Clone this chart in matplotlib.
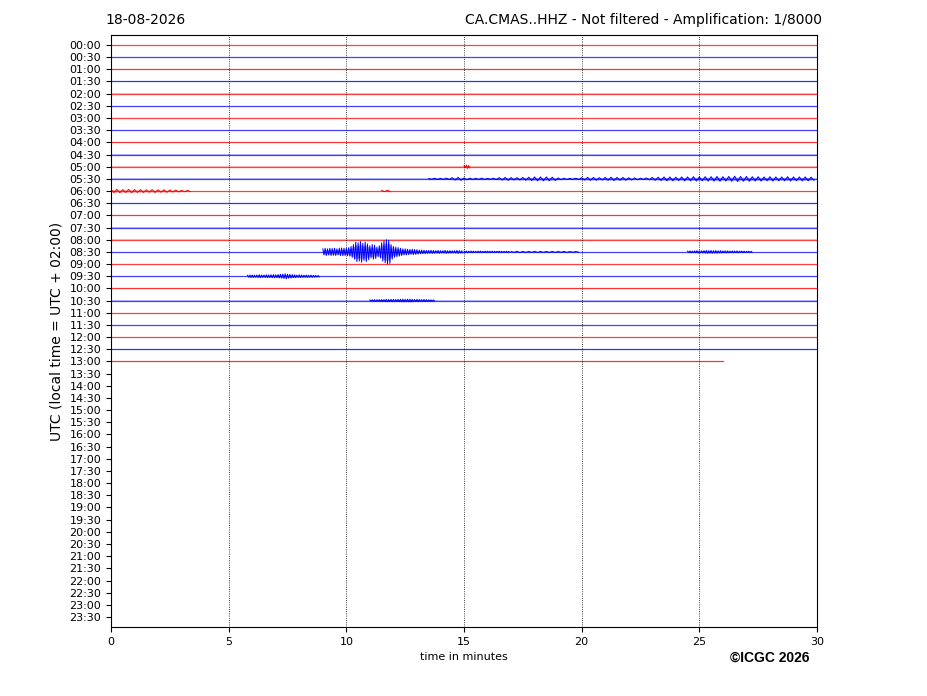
import numpy as np
import matplotlib as mpl
mpl.use('Agg')
import matplotlib.pyplot as plt

mpl.rcParams['font.size'] = 8

# helicorder rows, one every 30 min, 00:00 .. 23:30
row_labels = ['%02d:%02d' % (h, m) for h in range(24) for m in (0, 30)]
n_data_rows = 27              # 00:00 .. 13:00 have data
last_row_end = 26.0           # minutes recorded in the 13:00 row
row_noise = [0.02, 0.02, 0.03, 0.05, 0.02, 0.02, 0.02, 0.02, 0.05,
             0.05, 0.02, 0.03, 0.03, 0.03, 0.02, 0.02, 0.02, 0.02,
             0.02, 0.02, 0.05, 0.03, 0.02, 0.02, 0.02, 0.02, 0.05]

# signal envelopes: (row, start minute, step, amplitudes in row units)
events = [
    (10, 15.0, 0.1, [0.08, 0.14, 0.1]),
    (11, 13.5, 0.25, [0.04, 0.05, 0.05, 0.06, 0.1, 0.12, 0.08, 0.06,
                      0.05, 0.06, 0.05, 0.06, 0.1, 0.12, 0.1, 0.1,
                      0.12, 0.14, 0.16, 0.16, 0.16, 0.14, 0.08, 0.06,
                      0.05, 0.06, 0.1, 0.12, 0.12, 0.1, 0.12, 0.14,
                      0.12, 0.12, 0.1, 0.08, 0.06, 0.08, 0.12, 0.14,
                      0.16, 0.16, 0.14, 0.16, 0.16, 0.18, 0.16, 0.18,
                      0.18, 0.2, 0.18, 0.2, 0.22, 0.2, 0.2, 0.18,
                      0.18, 0.16, 0.18, 0.16, 0.16, 0.18, 0.16, 0.16,
                      0.16, 0.14]),
    (12, 0.0, 0.25, [0.12, 0.14, 0.12, 0.14, 0.12, 0.12, 0.1, 0.12,
                     0.1, 0.1, 0.08, 0.08, 0.06, 0.05]),
    (12, 11.5, 0.25, [0.05, 0.06]),
    (17, 9.0, 0.1, [0.25, 0.3, 0.25, 0.3, 0.28, 0.3, 0.25, 0.3, 0.32, 0.3,
                    0.3, 0.35, 0.45, 0.6, 0.8, 0.75, 0.85, 0.7, 0.8, 0.65,
                    0.5, 0.6, 0.55, 0.4, 0.5, 0.75, 0.9, 1.0, 0.95, 0.6,
                    0.45, 0.4, 0.35, 0.3, 0.25, 0.25, 0.22, 0.2, 0.22, 0.2,
                    0.18, 0.15, 0.15, 0.14, 0.12, 0.12, 0.13, 0.12, 0.1, 0.12,
                    0.1, 0.1, 0.12, 0.1, 0.1, 0.09, 0.1, 0.12, 0.1, 0.09]),
    (17, 15.0, 0.1, [0.08, 0.07, 0.06, 0.07, 0.06, 0.05, 0.06, 0.07, 0.05, 0.06,
                     0.06, 0.05, 0.06, 0.05, 0.05, 0.06, 0.05, 0.04, 0.05, 0.04]),
    (17, 17.0, 0.25, [0.04, 0.05, 0.04, 0.04, 0.05, 0.04, 0.04, 0.04, 0.03, 0.04, 0.03, 0.03]),
    (17, 24.5, 0.1, [0.06, 0.08, 0.07, 0.08, 0.1, 0.08, 0.09, 0.1, 0.12, 0.1,
                     0.12, 0.1, 0.11, 0.09, 0.1, 0.08, 0.09, 0.08, 0.07, 0.08,
                     0.07, 0.08, 0.06, 0.07, 0.06, 0.05, 0.06, 0.05]),
    (19, 5.8, 0.1, [0.08, 0.1, 0.1, 0.09, 0.1, 0.12, 0.1, 0.1, 0.12, 0.11,
                    0.12, 0.13, 0.12, 0.14, 0.16, 0.18, 0.2, 0.17, 0.15, 0.13,
                    0.12, 0.1, 0.11, 0.1, 0.09, 0.1, 0.08, 0.09, 0.08, 0.07, 0.06]),
    (21, 11.0, 0.1, [0.06, 0.07, 0.08, 0.07, 0.08, 0.09, 0.08, 0.1, 0.09, 0.1,
                     0.1, 0.09, 0.1, 0.11, 0.12, 0.1, 0.11, 0.12, 0.1, 0.09,
                     0.1, 0.09, 0.08, 0.09, 0.08, 0.07, 0.06, 0.06]),
]

row_colors = ['red', 'blue']
grid_minutes = [5, 10, 15, 20, 25]


def zigzag(start, step, amps, base):
    x = start + np.arange(len(amps)) * step
    a = np.array(amps)
    xs = np.column_stack([x, x + step / 2]).ravel()
    ys = np.column_stack([base - a, base + a]).ravel()
    return xs, ys


fig = plt.figure(figsize=(9.27, 6.96), dpi=100)
ax = fig.add_axes([111 / 927, 1 - 627 / 696, 706 / 927, 592 / 696])

for i in range(n_data_rows):
    c = row_colors[i % 2]
    end = last_row_end if i == n_data_rows - 1 else 30
    ax.fill_between([0, end], i - row_noise[i], i + row_noise[i], color=c, alpha=0.25, lw=0)
    ax.plot([0, end], [i, i], color=c, lw=0.9, alpha=0.75)

for row, start, step, amps in events:
    c = row_colors[row % 2]
    xs, ys = zigzag(start, step, amps, row)
    ax.plot(xs, ys, color=c, lw=0.7)
    # fill the envelope a bit so big bursts read as a solid blob
    x = start + np.arange(len(amps)) * step
    a = 0.7 * np.array(amps)
    ax.fill_between(x, row - a, row + a, color=c, alpha=0.3, lw=0)

for m in grid_minutes:
    ax.axvline(m, color='k', lw=0.6, ls=':')

ax.set_xlim(0, 30)
ax.set_ylim(len(row_labels) - 1 + 0.82, -0.82)
ax.set_yticks(range(len(row_labels)))
ax.set_yticklabels(row_labels)
ax.set_xticks(range(0, 31, 5))
ax.set_xlabel('time in minutes')
ax.set_ylabel('UTC (local time = UTC + 02:00)', fontsize=10)

fig.text(105 / 927, 1 - 20 / 696, '18-08-2026', fontsize=10, va='center', ha='left')
fig.text(822 / 927, 1 - 20 / 696, 'CA.CMAS..HHZ - Not filtered - Amplification: 1/8000',
         fontsize=10, va='center', ha='right')
fig.text(770 / 927, 1 - 658 / 696, '\u00a9ICGC 2026', fontsize=10, fontweight='bold',
         family='Liberation Sans', va='center', ha='center')

fig.savefig('out.png', dpi=100)
